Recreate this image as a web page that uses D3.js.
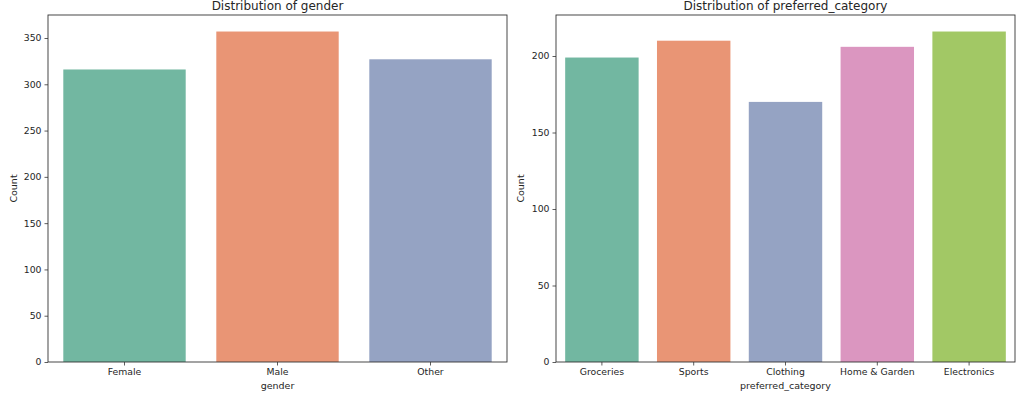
<!DOCTYPE html>
<html>
<head>
<meta charset="utf-8">
<script src="https://cdn.jsdelivr.net/npm/d3@7"></script>
<style>
  body { margin: 0; background: #fff; }
  svg text { font-family: "DejaVu Sans", sans-serif; fill: #262626; }
</style>
</head>
<body>
<svg></svg>
<script>
const size = { w: 1024, h: 402 };

// data
const genderCats = ["Female", "Male", "Other"];
const genderCounts = [316, 357, 327];
const categoryCats = ["Groceries", "Sports", "Clothing", "Home & Garden", "Electronics"];
const categoryCounts = [199, 210, 170, 206, 216];
const genderTicks = [0, 50, 100, 150, 200, 250, 300, 350];
const categoryTicks = [0, 50, 100, 150, 200];

// seaborn Set2 at saturation 0.75
const palette = ["#72b7a1", "#e99575", "#95a3c3", "#db96c0", "#a2c865"];

const svg = d3.select("svg").attr("width", size.w).attr("height", size.h);

// one panel = one axes box
function drawPanel(box, cats, counts, ticks, title, xLabel) {
	const g = svg.append("g").attr("transform", `translate(${box.x},${box.y})`);

	const x = d3.scaleBand().domain(cats).range([0, box.w]).paddingInner(0.2).paddingOuter(0.1);
	const y = d3.scaleLinear().domain([0, d3.max(counts) * 1.05]).range([box.h, 0]);

	g.selectAll("rect.bar")
		.data(cats)
		.join("rect")
		.classed("bar", true)
		.attr("x", (d) => x(d))
		.attr("width", x.bandwidth())
		.attr("y", (d, i) => y(counts[i]))
		.attr("height", (d, i) => box.h - y(counts[i]))
		.attr("fill", (d, i) => palette[i]);

	// axes
	const yAxis = d3.axisLeft(y).tickValues(ticks).tickSize(3.5).tickPadding(3);
	const xAxis = d3.axisBottom(x).tickSize(3.5).tickPadding(3);

	const yG = g.append("g").call(yAxis);
	const xG = g.append("g").attr("transform", `translate(0,${box.h})`).call(xAxis);
	[yG, xG].forEach((a) => {
		a.select(".domain").remove();
		a.selectAll(".tick line").attr("stroke", "#333").attr("stroke-width", 0.8);
		a.selectAll(".tick text").style("font-size", "9.3px").attr("fill", "#262626");
	});

	// frame
	g.append("rect")
		.attr("width", box.w)
		.attr("height", box.h)
		.attr("fill", "none")
		.attr("stroke", "#333")
		.attr("stroke-width", 0.9);

	g.append("text")
		.attr("x", box.w / 2)
		.attr("y", -5)
		.attr("text-anchor", "middle")
		.style("font-size", "12px")
		.text(title);

	g.append("text")
		.attr("x", box.w / 2)
		.attr("y", box.h + 27)
		.attr("text-anchor", "middle")
		.style("font-size", "9.5px")
		.text(xLabel);

	g.append("text")
		.attr("transform", `translate(${-box.labelOff},${box.h / 2}) rotate(-90)`)
		.attr("text-anchor", "middle")
		.style("font-size", "9.5px")
		.text("Count");
}

drawPanel({ x: 48, y: 15, w: 459, h: 347, labelOff: 31 },
	genderCats, genderCounts, genderTicks, "Distribution of gender", "gender");
drawPanel({ x: 556, y: 15, w: 459, h: 347, labelOff: 32 },
	categoryCats, categoryCounts, categoryTicks, "Distribution of preferred_category", "preferred_category");
</script>
</body>
</html>
